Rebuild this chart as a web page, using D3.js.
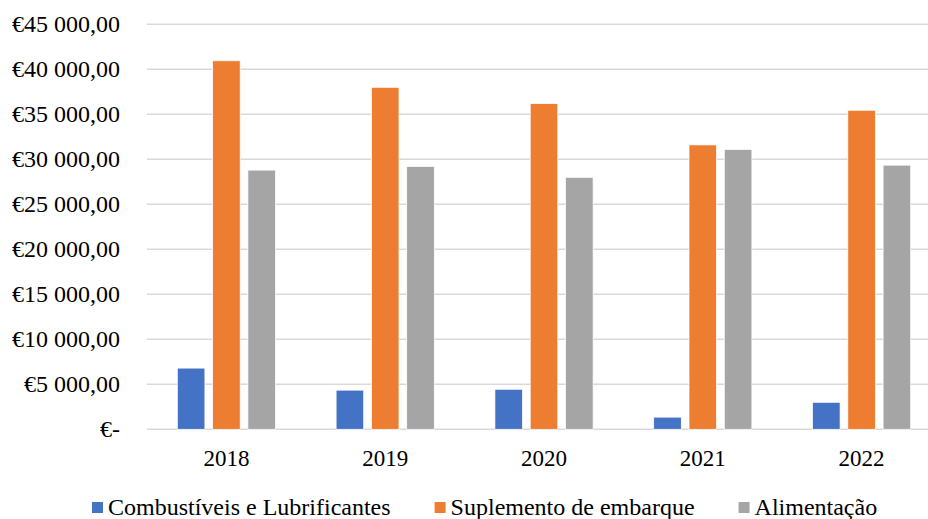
<!DOCTYPE html>
<html>
<head>
<meta charset="utf-8">
<script src="https://cdn.jsdelivr.net/npm/d3@7"></script>
<style>
  body { margin: 0; background: #fff; }
  #chart text { font-family: 'Liberation Serif', 'Times New Roman', Times, serif !important; fill: #000; }
</style>
</head>
<body>
<svg id="chart" width="928" height="519"></svg>
<script>
// data
const years = ['2018', '2019', '2020', '2021', '2022']
const series = ['Combustíveis e Lubrificantes', 'Suplemento de embarque', 'Alimentação']
const combustiveis = [6800, 4350, 4450, 1350, 3000]
const suplemento = [40950, 38000, 36200, 31600, 35450]
const alimentacao = [28800, 29200, 28000, 31100, 29350]
const yTicks = [0, 5000, 10000, 15000, 20000, 25000, 30000, 35000, 40000, 45000]
const colors = ['#4472C4', '#ED7D31', '#A5A5A5']

const values = [combustiveis, suplemento, alimentacao]
const rows = years.map(function(y, i) {
  return { year: y, vals: series.map(function(s, j) { return { key: s, value: values[j][i], idx: j } }) }
})

let svg = d3.select('#chart')
let serif = "'Liberation Serif', 'Times New Roman', serif"

let x0 = d3.scaleBand().domain(years).range([147, 941]).padding(0)
let x1 = d3.scaleBand().domain(series).range([0, 98.2]).paddingInner(0.218).paddingOuter(0)
let y = d3.scaleLinear().domain([0, 45000]).range([429.3, 24.3])

// gridlines
svg.append('g')
  .selectAll('line')
  .data(yTicks)
  .enter()
  .append('line')
    .attr('x1', 147)
    .attr('x2', 941)
    .attr('y1', function(d) { return y(d) })
    .attr('y2', function(d) { return y(d) })
    .attr('stroke', '#D9D9D9')
    .attr('stroke-width', 1.5)

// y labels
let fmt = function(d) {
  if (d === 0) return '€-'
  return '€' + d3.format(',')(d).replace(/,/g, ' ') + ',00'
}
let yAxis = d3.axisLeft(y).tickValues(yTicks).tickFormat(fmt).tickSize(0).tickPadding(0)
let yg = svg.append('g').attr('transform', 'translate(120,0)').call(yAxis)
yg.attr('font-family', serif)
yg.select('.domain').remove()
yg.selectAll('text')
  .style('font-family', serif)
  .style('font-size', '24px')
  .attr('fill', '#000')

// bars
let groups = svg.append('g')
  .selectAll('g')
  .data(rows)
  .enter()
  .append('g')
    .attr('transform', function(d) { return 'translate(' + (x0(d.year) + x0.bandwidth() / 2 - 49.1) + ',0)' })

groups.selectAll('rect')
  .data(function(d) { return d.vals })
  .enter()
  .append('rect')
    .attr('x', function(d) { return x1(d.key) })
    .attr('width', x1.bandwidth())
    .attr('y', function(d) { return y(d.value) })
    .attr('height', function(d) { return y(0) - y(d.value) })
    .attr('fill', function(d) { return colors[d.idx] })
    .attr('stroke', '#fff')
    .attr('stroke-width', 0.75)

// x labels
let xAxis = d3.axisBottom(x0).tickSize(0).tickPadding(0)
let xg = svg.append('g').attr('transform', 'translate(0,449)').call(xAxis)
xg.attr('font-family', serif)
xg.select('.domain').remove()
xg.selectAll('text')
  .attr('dy', '0.75em')
  .style('font-family', serif)
  .style('font-size', '23px')
  .attr('fill', '#000')

// legend
let legend = svg.append('g').attr('transform', 'translate(92,0)')
let lx = 0
series.forEach(function(s, i) {
  let it = legend.append('g')
  it.append('rect')
    .attr('x', 0).attr('y', 502)
    .attr('width', 11).attr('height', 11)
    .attr('fill', colors[i])
  let t = it.append('text')
    .attr('x', 16).attr('y', 515)
    .style('font-family', serif)
    .style('font-size', '24px')
    .text(s)
  let w = 16 + t.node().getComputedTextLength()
  it.attr('transform', 'translate(' + lx + ',0)')
  lx += w + 44
})
</script>
</body>
</html>
